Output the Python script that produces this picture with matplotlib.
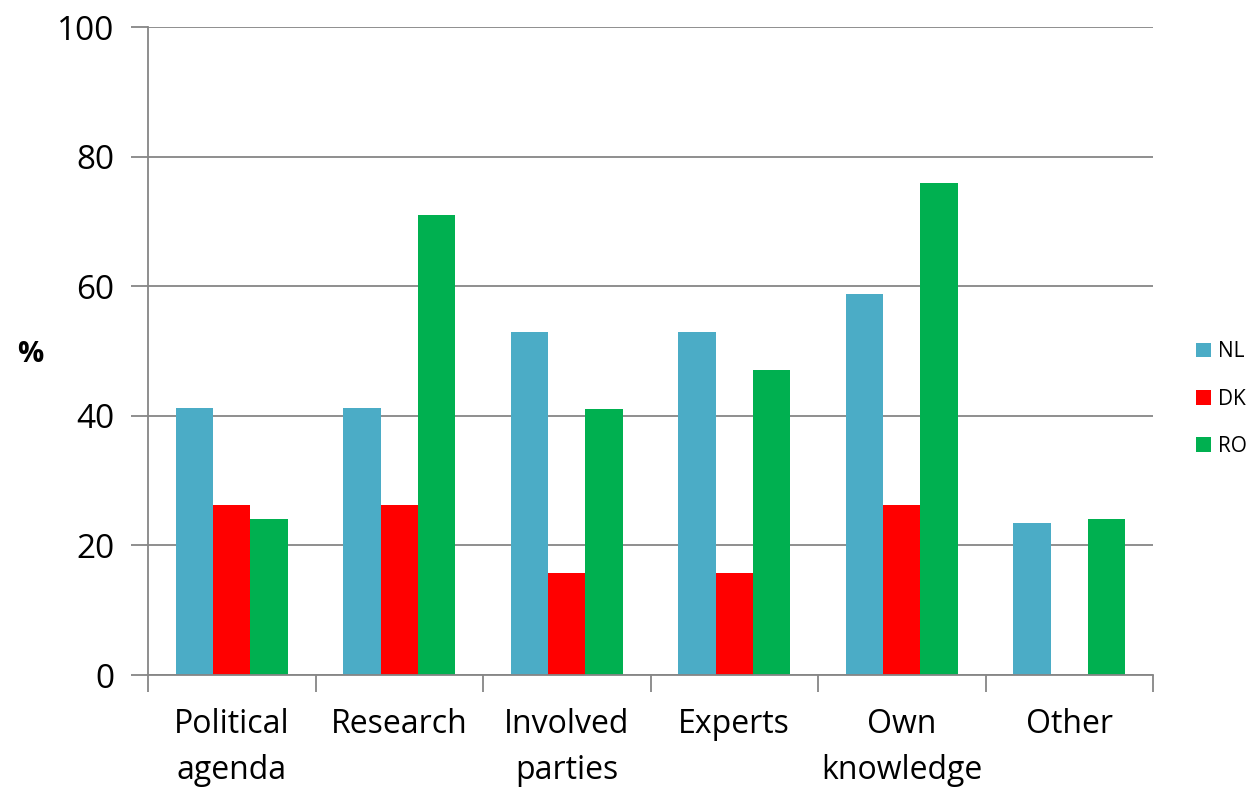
import matplotlib
matplotlib.use("Agg")
import matplotlib.pyplot as plt
import numpy as np
from matplotlib.patches import Patch

categories = ["Political\nagenda", "Research", "Involved\nparties", "Experts", "Own\nknowledge", "Other"]
nl = [41.2, 41.2, 52.9, 52.9, 58.8, 23.5]
dk = [26.3, 26.3, 15.8, 15.8, 26.3, 0.0]
ro = [24.0, 71.0, 41.0, 47.0, 76.0, 24.0]
series_names = ["NL", "DK", "RO"]
colors = ["#4BACC6", "#FF0000", "#00B050"]
yticks = [0, 20, 40, 60, 80, 100]

plt.rcParams["font.family"] = ["Open Sans", "DejaVu Sans"]

W, H = 1253, 789
fig = plt.figure(figsize=(W / 100, H / 100), dpi=100)
ax = fig.add_axes([148 / W, 1 - 675 / H, (1153 - 148) / W, (675 - 27) / H])

x = np.arange(len(categories))
bw = 1 / 4.5
for i, (vals, c) in enumerate(zip([nl, dk, ro], colors)):
    ax.bar(x + (i - 1) * bw, vals, width=bw, color=c, zorder=3)

ax.set_xlim(-0.5, len(categories) - 0.5)
ax.set_ylim(0, 100)
ax.set_yticks(yticks)
ax.set_yticklabels([str(v) for v in yticks], fontsize=24)
ax.yaxis.grid(True, color="#868686", linewidth=1.3, zorder=0)
ax.tick_params(axis="y", length=12, width=1.3, color="#868686", pad=12)

ax.set_xticks(x)
ax.set_xticklabels(categories, fontsize=23, linespacing=1.5, va="top")
ax.tick_params(axis="x", length=0, pad=24)
ax.set_xticks(np.arange(-0.5, len(categories)), minor=True)
ax.tick_params(axis="x", which="minor", length=12, width=1.3, color="#868686")

for s in ["top", "right"]:
    ax.spines[s].set_visible(False)
for s in ["left", "bottom"]:
    ax.spines[s].set_color("#868686")
    ax.spines[s].set_linewidth(1.3)
    ax.spines[s].set_zorder(4)

fig.text(30 / W, 1 - 355 / H, "%", fontsize=21, fontweight="bold", ha="center", va="center")

handles = [Patch(facecolor=c, label=n) for n, c in zip(series_names, colors)]
fig.legend(handles=handles, loc="center left", bbox_to_anchor=(1196 / W, 1 - 399 / H),
           frameon=False, fontsize=15, handlelength=0.7, handleheight=0.7,
           handletextpad=0.35, labelspacing=1.25, borderaxespad=0, borderpad=0)

fig.savefig("out.png", dpi=100)
